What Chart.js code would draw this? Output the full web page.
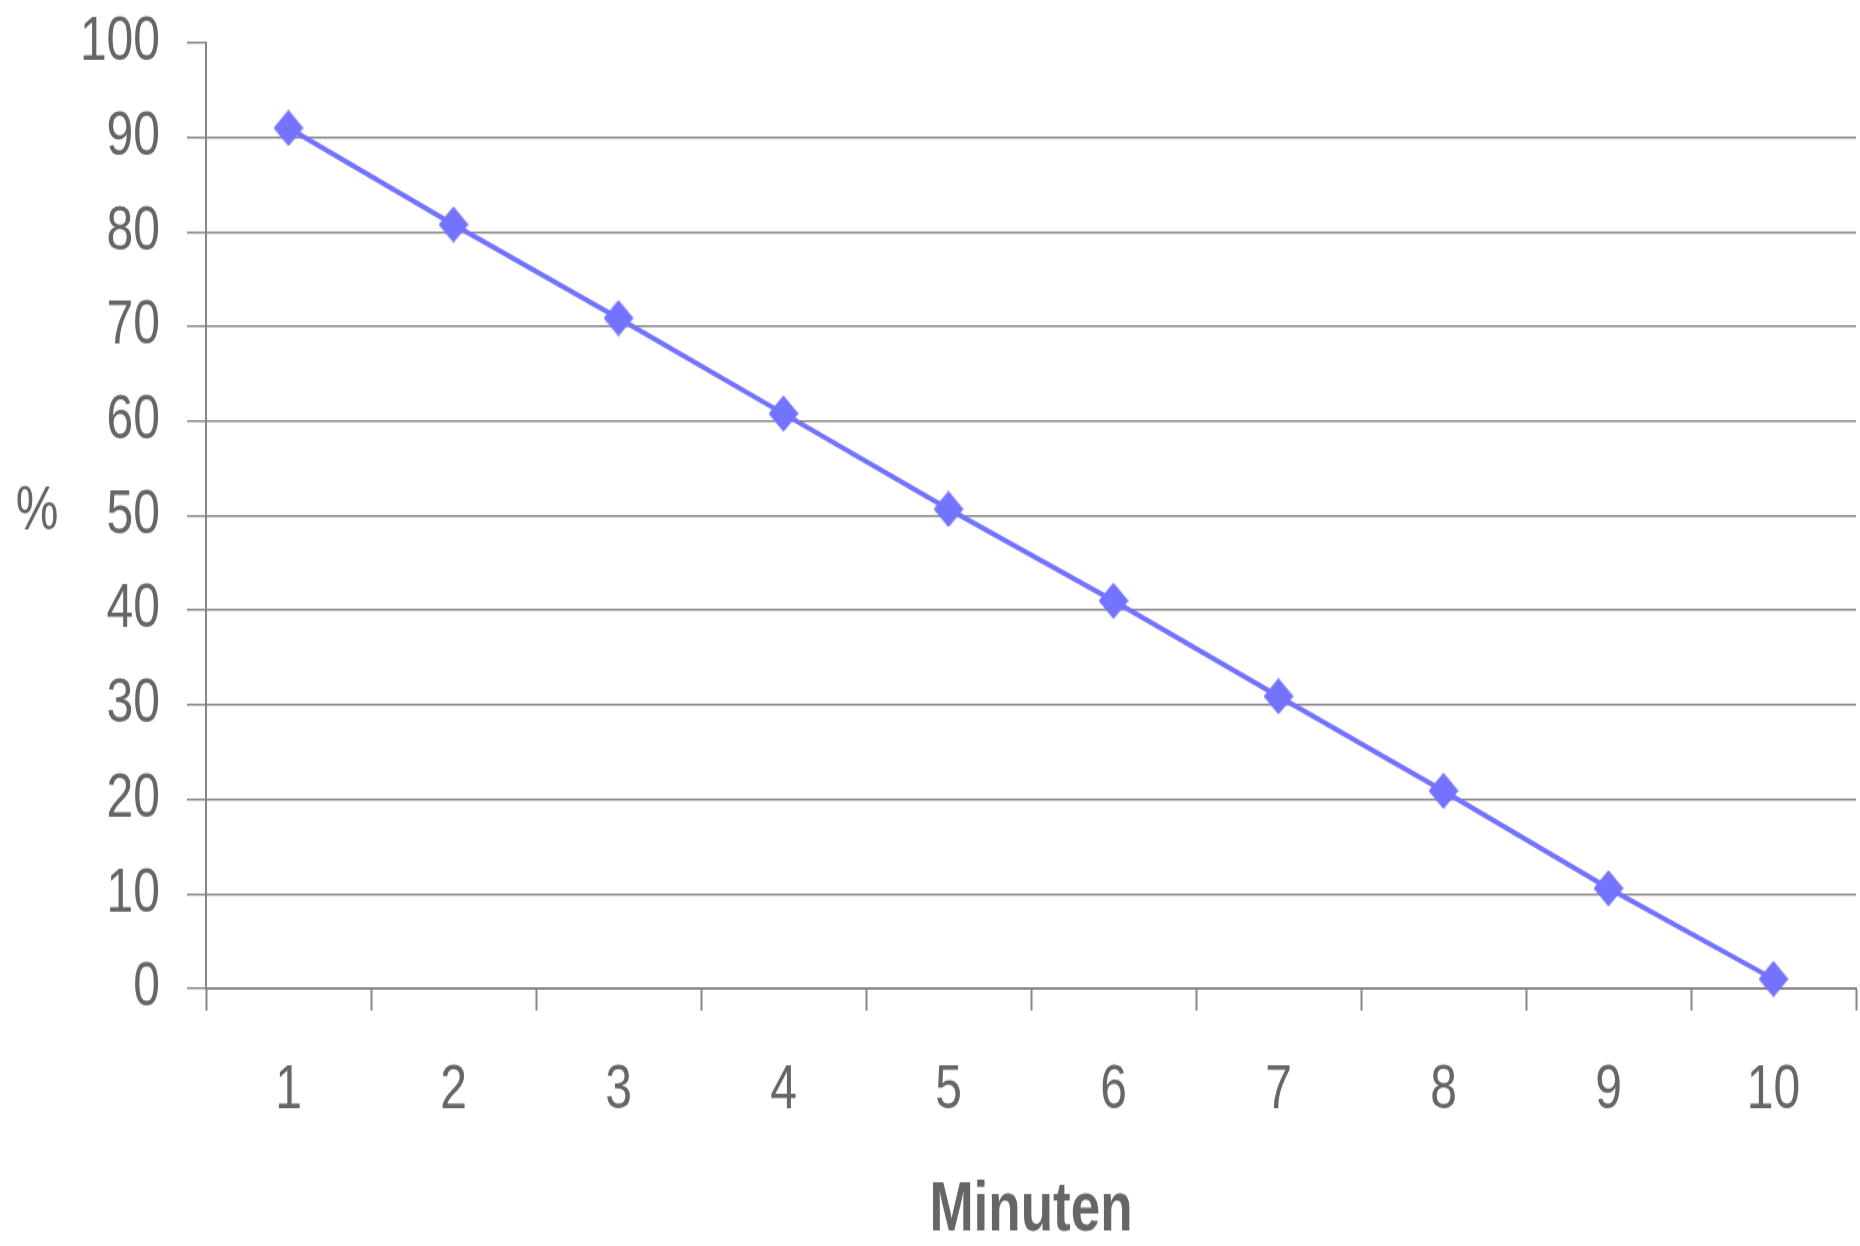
<!DOCTYPE html>
<html>
<head>
<meta charset="utf-8">
<title>Minuten</title>
<script src="https://cdn.jsdelivr.net/npm/chart.js@4/dist/chart.umd.min.js"></script>
<style>
  html, body { margin: 0; padding: 0; background: #ffffff; }
  #page { width: 1860px; height: 1246px; position: relative; }
  /* The chart is drawn on a shorter canvas and stretched to the full page height */
  #c { display: block; position: absolute; left: 0; top: 0; transform-origin: 0 0; transform: scaleY(1.3006); }
</style>
</head>
<body>
<div id="page"><canvas id="c" width="1860" height="958"></canvas></div>
<script>
// Categories (minutes) and the measured percentage per minute
const minutes = ['1', '2', '3', '4', '5', '6', '7', '8', '9', '10'];
const percentValues = [91, 80.8, 70.9, 60.8, 50.7, 41, 30.9, 20.9, 10.6, 1];
// Y-axis tick values
const yTickValues = [0, 10, 20, 30, 40, 50, 60, 70, 80, 90, 100];
const xTitle = 'Minuten';
const yTitle = '%';

const FONT = "'Liberation Sans', Arial, sans-serif";
const TEXT = '#666666';
const GRID = '#868686';
const LINE = '#7373ff';

// Diamond marker
function diamond(w, h, color) {
  const cv = document.createElement('canvas');
  cv.width = w; cv.height = h;
  const g = cv.getContext('2d');
  g.fillStyle = color;
  g.beginPath();
  g.moveTo(w / 2, 0);
  g.lineTo(w, h / 2);
  g.lineTo(w / 2, h);
  g.lineTo(0, h / 2);
  g.closePath();
  g.fill();
  return cv;
}
const marker = diamond(30, 28, LINE);

// Horizontal "%" label beside the value axis
const yTitlePlugin = {
  id: 'yTitleHorizontal',
  afterDraw(chart) {
    const ctx = chart.ctx;
    const y = chart.scales.y.getPixelForValue(50);
    ctx.save();
    ctx.font = '48px ' + FONT;
    ctx.fillStyle = TEXT;
    ctx.textAlign = 'center';
    ctx.textBaseline = 'middle';
    ctx.fillText(yTitle, 37, y - 3);
    ctx.restore();
  }
};

function noPadding(scale) {
  scale.paddingTop = 0;
  scale.paddingBottom = 0;
  scale.paddingLeft = 0;
  scale.paddingRight = 0;
}

new Chart(document.getElementById('c'), {
  type: 'line',
  data: {
    labels: minutes,
    datasets: [{
      data: percentValues,
      borderColor: LINE,
      backgroundColor: LINE,
      borderWidth: 4,
      pointStyle: marker,
      pointRadius: 15,
      pointHoverRadius: 15,
      tension: 0,
      fill: false,
      clip: false
    }]
  },
  options: {
    responsive: false,
    animation: false,
    devicePixelRatio: 1,
    layout: { autoPadding: false, padding: { top: 33, right: 4, left: 0, bottom: 0 } },
    plugins: { legend: { display: false }, tooltip: { enabled: false } },
    scales: {
      x: {
        type: 'category',
        offset: true,
        grid: {
          offset: true,
          drawOnChartArea: false,
          tickLength: 17,
          tickColor: GRID,
          tickWidth: 2
        },
        border: { color: GRID, width: 2 },
        ticks: {
          color: TEXT,
          padding: 33,
          maxRotation: 0,
          font: { family: FONT, size: 48 }
        },
        title: {
          display: true,
          text: xTitle,
          color: TEXT,
          font: { family: FONT, size: 53, weight: 'bold', lineHeight: 1.0 },
          padding: { top: 20, bottom: 0 }
        },
        afterFit(scale) { scale.height = 198; noPadding(scale); }
      },
      y: {
        min: 0,
        max: 100,
        afterBuildTicks(scale) { scale.ticks = yTickValues.map(v => ({ value: v })); },
        grid: {
          color: ctx => (ctx.tick && ctx.tick.value === 100) ? 'rgba(0,0,0,0)' : GRID,
          lineWidth: 1.5,
          tickLength: 19,
          tickColor: GRID,
          tickWidth: 1.5
        },
        border: { color: GRID, width: 2 },
        ticks: {
          color: TEXT,
          padding: 27,
          font: { family: FONT, size: 48 }
        },
        afterFit(scale) { scale.width = 206; noPadding(scale); }
      }
    }
  },
  plugins: [yTitlePlugin]
});
</script>
</body>
</html>
